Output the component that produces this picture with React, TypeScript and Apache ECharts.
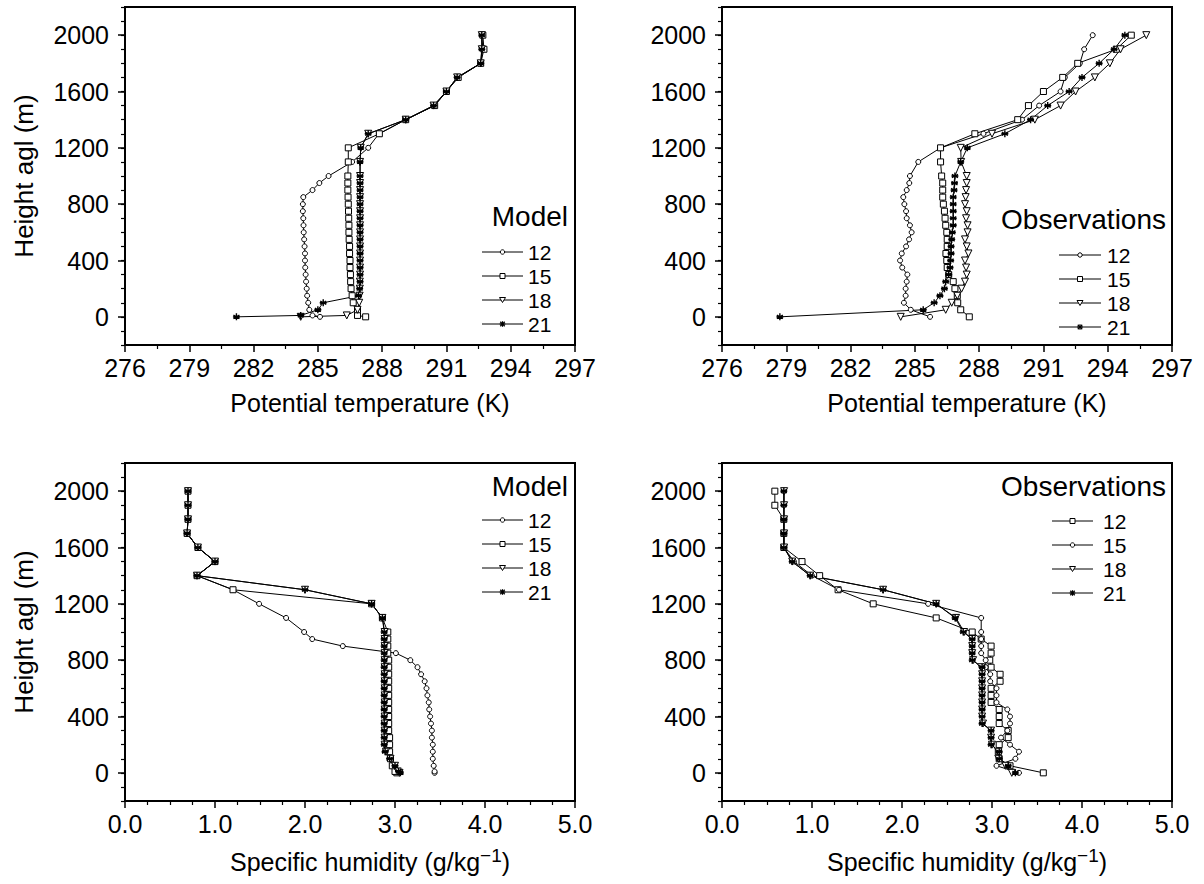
import React, { useEffect, useRef } from 'react';
import * as echarts from 'echarts';

const MODEL_HEIGHTS = [0, 10, 50, 100, 150, 200, 250, 300, 350, 400, 450, 500, 550, 600, 650, 700, 750, 800, 850, 900, 950, 1000, 1100, 1200, 1300, 1400, 1500, 1600, 1700, 1800, 1900, 2000];
const OBS_HEIGHTS = [0, 50, 100, 150, 200, 250, 300, 350, 400, 450, 500, 550, 600, 650, 700, 750, 800, 850, 900, 950, 1000, 1100, 1200, 1300, 1400, 1500, 1600, 1700, 1800, 1900, 2000];
const HOURS = ['12', '15', '18', '21'];
const HEIGHT_LABELS = [0, 400, 800, 1200, 1600, 2000];

// Model potential temperature (K)
const MODEL_THETA_12 = [285.1, 284.75, 284.6, 284.55, 284.5, 284.48, 284.45, 284.43, 284.41, 284.4, 284.4, 284.38, 284.36, 284.34, 284.33, 284.32, 284.3, 284.3, 284.32, 284.75, 285.07, 285.5, 286.6, 287.35, 287.85, 289.1, 290.45, 291.0, 291.55, 292.6, 292.7, 292.65];
const MODEL_THETA_15 = [287.23, 286.85, 286.85, 286.65, 286.6, 286.55, 286.53, 286.52, 286.5, 286.5, 286.48, 286.48, 286.46, 286.45, 286.45, 286.44, 286.43, 286.42, 286.41, 286.4, 286.4, 286.4, 286.42, 286.42, 287.87, 289.1, 290.45, 291.0, 291.55, 292.6, 292.75, 292.7];
const MODEL_THETA_18 = [284.2, 286.35, 286.85, 286.93, 286.95, 286.96, 286.96, 286.97, 286.97, 286.97, 286.97, 286.97, 286.97, 286.97, 286.97, 286.97, 286.97, 286.97, 286.97, 286.97, 286.97, 286.97, 286.97, 287.0, 287.35, 289.1, 290.4, 291.0, 291.5, 292.6, 292.65, 292.65];
const MODEL_THETA_21 = [281.2, 284.2, 285.0, 285.25, 286.9, 286.95, 286.97, 286.97, 286.97, 286.97, 286.97, 286.97, 286.97, 286.97, 286.97, 286.97, 286.97, 286.97, 286.97, 286.97, 286.97, 286.97, 286.97, 287.0, 287.35, 289.1, 290.4, 291.0, 291.5, 292.6, 292.65, 292.65];

// Observed potential temperature (K)
const OBS_THETA_12 = [285.71, 284.81, 284.49, 284.57, 284.57, 284.62, 284.65, 284.41, 284.31, 284.39, 284.59, 284.73, 284.85, 284.77, 284.62, 284.59, 284.51, 284.46, 284.62, 284.74, 284.77, 285.16, 286.2, 288.2, 290.0, 290.8, 291.8, 292.0, 292.7, 292.9, 293.3];
const OBS_THETA_15 = [287.54, 287.14, 287.0, 286.98, 286.87, 286.79, 286.58, 286.51, 286.49, 286.45, 286.51, 286.51, 286.49, 286.44, 286.41, 286.38, 286.33, 286.3, 286.3, 286.3, 286.25, 286.2, 286.2, 287.8, 289.8, 290.3, 291.0, 291.9, 292.6, 294.4, 295.1];
const OBS_THETA_18 = [284.34, 286.44, 286.72, 286.98, 287.18, 287.34, 287.42, 287.39, 287.34, 287.5, 287.42, 287.34, 287.46, 287.46, 287.39, 287.42, 287.34, 287.37, 287.39, 287.42, 287.42, 287.16, 287.14, 288.6, 290.6, 291.8, 292.5, 293.4, 294.1, 294.6, 295.8];
const OBS_THETA_21 = [278.7, 285.39, 285.9, 286.17, 286.38, 286.44, 286.58, 286.64, 286.67, 286.69, 286.69, 286.72, 286.75, 286.79, 286.79, 286.79, 286.79, 286.79, 286.83, 286.85, 286.87, 287.14, 287.45, 289.2, 290.4, 291.2, 292.2, 292.8, 293.6, 294.3, 294.8];

// Model specific humidity
const MODEL_Q_12 = [3.44, 3.44, 3.43, 3.42, 3.42, 3.42, 3.41, 3.41, 3.40, 3.39, 3.38, 3.375, 3.36, 3.35, 3.33, 3.29, 3.25, 3.17, 3.01, 2.42, 2.08, 1.99, 1.79, 1.49, 1.2, 0.8, 1.0, 0.81, 0.69, 0.70, 0.70, 0.70];
const MODEL_Q_15 = [3.02, 3.0, 2.97, 2.95, 2.94, 2.94, 2.94, 2.93, 2.93, 2.93, 2.93, 2.93, 2.93, 2.93, 2.93, 2.93, 2.93, 2.93, 2.92, 2.92, 2.92, 2.92, 2.86, 2.74, 1.2, 0.8, 1.0, 0.81, 0.69, 0.70, 0.70, 0.70];
const MODEL_Q_18 = [3.05, 3.03, 3.0, 2.95, 2.9, 2.885, 2.885, 2.885, 2.885, 2.885, 2.885, 2.885, 2.885, 2.885, 2.885, 2.885, 2.885, 2.885, 2.885, 2.885, 2.885, 2.885, 2.86, 2.74, 2.0, 0.8, 1.0, 0.81, 0.69, 0.70, 0.70, 0.70];
const MODEL_Q_21 = [3.06, 3.04, 3.0, 2.94, 2.89, 2.88, 2.88, 2.88, 2.88, 2.88, 2.88, 2.88, 2.88, 2.88, 2.88, 2.88, 2.88, 2.88, 2.88, 2.88, 2.88, 2.88, 2.86, 2.74, 2.0, 0.8, 1.0, 0.81, 0.69, 0.70, 0.70, 0.70];

// Observed specific humidity
const OBS_Q_12 = [3.57, 3.2, 3.08, 3.07, 3.08, 3.18, 3.18, 3.08, 3.08, 3.08, 2.99, 2.99, 2.99, 3.09, 3.09, 2.99, 2.975, 2.99, 2.99, 2.88, 2.78, 2.38, 1.68, 1.29, 1.085, 0.889, 0.687, 0.687, 0.687, 0.587, 0.587];
const OBS_Q_15 = [3.3, 3.05, 3.26, 3.3, 3.2, 3.1, 3.17, 3.2, 3.2, 3.17, 3.05, 3.05, 3.05, 2.98, 2.98, 2.93, 2.93, 2.88, 2.88, 2.88, 2.88, 2.88, 2.29, 1.3, 1.0, 0.8, 0.687, 0.687, 0.687, 0.687, 0.687];
const OBS_Q_18 = [3.22, 3.15, 3.07, 3.07, 3.0, 2.99, 2.99, 2.9, 2.89, 2.89, 2.89, 2.89, 2.89, 2.89, 2.89, 2.88, 2.79, 2.78, 2.78, 2.78, 2.69, 2.6, 2.38, 1.79, 0.98, 0.78, 0.69, 0.69, 0.69, 0.69, 0.69];
const OBS_Q_21 = [3.26, 3.18, 3.08, 3.08, 2.99, 2.99, 2.99, 2.89, 2.89, 2.89, 2.89, 2.89, 2.89, 2.89, 2.89, 2.89, 2.78, 2.78, 2.78, 2.78, 2.68, 2.59, 2.38, 1.79, 0.98, 0.78, 0.687, 0.687, 0.687, 0.687, 0.687];

const FONT = '"Liberation Sans", Arial, Helvetica, sans-serif';

type Mk = 'circle' | 'square' | 'triangle' | 'star';

const SYMBOLS: Record<Mk, { symbol: string; size: number; fill: string }> = {
  circle: { symbol: 'circle', size: 5, fill: '#fff' },
  square: { symbol: 'rect', size: 6, fill: '#fff' },
  triangle: { symbol: 'path://M0,0L10,0L5,9Z', size: 7, fill: '#fff' },
  star: { symbol: 'path://M5,0L5,10M0.7,2.5L9.3,7.5M0.7,7.5L9.3,2.5M0,5L10,5', size: 7, fill: '#000' },
};

function makeSeries(name: string, xs: number[], hs: number[], grid: number, mk: Mk) {
  const s = SYMBOLS[mk];
  return {
    type: 'line',
    name,
    xAxisIndex: grid,
    yAxisIndex: grid * 2,
    data: hs.map((h, i) => [xs[i], h]),
    symbol: s.symbol,
    symbolSize: s.size,
    showSymbol: true,
    lineStyle: { color: '#000', width: 1 },
    itemStyle: { color: s.fill, borderColor: '#000', borderWidth: mk === 'star' ? 1.4 : 1 },
    emphasis: { disabled: true },
  };
}

function legendGraphics(cfg: {
  title: string; titleRight: number; titleY: number;
  x0: number; x1: number; textX: number; rows: number[]; markers: Mk[];
}) {
  const els: any[] = [];
  els.push({
    type: 'text', x: cfg.titleRight, y: cfg.titleY,
    style: { text: cfg.title, fontSize: 28, fontFamily: FONT, fill: '#000', align: 'right', verticalAlign: 'middle' },
  });
  cfg.rows.forEach((y, i) => {
    const cx = (cfg.x0 + cfg.x1) / 2;
    els.push({ type: 'line', shape: { x1: cfg.x0, y1: y, x2: cfg.x1, y2: y }, style: { stroke: '#000', lineWidth: 1 } });
    const st = { fill: '#fff', stroke: '#000', lineWidth: 1 };
    const m = cfg.markers[i];
    if (m === 'circle') els.push({ type: 'circle', shape: { cx, cy: y, r: 2.2 }, style: st });
    else if (m === 'square') els.push({ type: 'rect', shape: { x: cx - 2.5, y: y - 2.5, width: 5, height: 5 }, style: st });
    else if (m === 'triangle') els.push({ type: 'polygon', shape: { points: [[cx - 3, y - 2.5], [cx + 3, y - 2.5], [cx, y + 2.5]] }, style: st });
    else {
      const r = 2.8;
      [[0, -r, 0, r], [-r, 0, r, 0], [-r * 0.8, -r * 0.8, r * 0.8, r * 0.8], [-r * 0.8, r * 0.8, r * 0.8, -r * 0.8]].forEach((p) =>
        els.push({ type: 'line', shape: { x1: cx + p[0], y1: y + p[1], x2: cx + p[2], y2: y + p[3] }, style: { stroke: '#000', lineWidth: 1.2 } }));
    }
    els.push({
      type: 'text', x: cfg.textX, y,
      style: { text: HOURS[i], fontSize: 21, fontFamily: FONT, fill: '#000', align: 'left', verticalAlign: 'middle' },
    });
  });
  return els;
}

const GRIDS = [
  { left: 125, top: 7, width: 450, height: 338 },
  { left: 722, top: 7, width: 450, height: 338 },
  { left: 125, top: 463, width: 450, height: 338 },
  { left: 722, top: 463, width: 450, height: 338 },
];

function buildOption() {
  const labelStyle = { color: '#000', fontSize: 25, fontFamily: FONT };
  const xAxis = GRIDS.map((_, g) => {
    const theta = g < 2;
    return {
      type: 'value', gridIndex: g,
      min: theta ? 276 : 0, max: theta ? 297 : 5, interval: theta ? 3 : 1,
      name: theta ? 'Potential temperature (K)' : 'Specific humidity (g/kg{sup|−1})',
      nameLocation: 'middle', nameGap: 45,
      nameTextStyle: {
        color: '#000', fontSize: 25, fontFamily: FONT, padding: [0, 0, 0, 40],
        rich: { sup: { fontSize: 19, fontFamily: FONT, color: '#000', verticalAlign: 'top', padding: [0, 0, 12, 0] } },
      },
      axisLine: { show: true, onZero: false, lineStyle: { color: '#000', width: 2 } },
      axisTick: { show: true, inside: false, length: 7, lineStyle: { color: '#000', width: 1.5 } },
      minorTick: { show: true, splitNumber: theta ? 2 : 4, length: 4, lineStyle: { color: '#000', width: 1.2 } },
      axisLabel: { ...labelStyle, margin: 10, formatter: (v: number) => (theta ? String(v) : v.toFixed(1)) },
      splitLine: { show: false },
      minorSplitLine: { show: false },
    };
  });
  const yAxis: any[] = [];
  GRIDS.forEach((_, g) => {
    yAxis.push({
      type: 'value', gridIndex: g, min: -200, max: 2200, interval: 100,
      axisLine: { show: true, onZero: false, lineStyle: { color: '#000', width: 2 } },
      axisTick: { show: true, length: 4, lineStyle: { color: '#000', width: 1.2 } },
      axisLabel: { show: false },
      splitLine: { show: false },
    });
    yAxis.push({
      type: 'value', gridIndex: g, min: -200, max: 2200,
      position: 'left',
      name: g % 2 === 0 ? 'Height agl (m)' : '',
      nameLocation: 'middle', nameRotate: 90, nameGap: 88,
      nameTextStyle: { color: '#000', fontSize: 26, fontFamily: FONT },
      axisLine: { show: false },
      axisTick: { show: true, length: 7, customValues: HEIGHT_LABELS, lineStyle: { color: '#000', width: 1.5 } },
      axisLabel: { ...labelStyle, margin: 16, customValues: HEIGHT_LABELS, formatter: (v: number) => String(v) },
      splitLine: { show: false },
    });
  });

  const series = [
    makeSeries('12', MODEL_THETA_12, MODEL_HEIGHTS, 0, 'circle'),
    makeSeries('15', MODEL_THETA_15, MODEL_HEIGHTS, 0, 'square'),
    makeSeries('18', MODEL_THETA_18, MODEL_HEIGHTS, 0, 'triangle'),
    makeSeries('21', MODEL_THETA_21, MODEL_HEIGHTS, 0, 'star'),
    makeSeries('12', OBS_THETA_12, OBS_HEIGHTS, 1, 'circle'),
    makeSeries('15', OBS_THETA_15, OBS_HEIGHTS, 1, 'square'),
    makeSeries('18', OBS_THETA_18, OBS_HEIGHTS, 1, 'triangle'),
    makeSeries('21', OBS_THETA_21, OBS_HEIGHTS, 1, 'star'),
    makeSeries('12', MODEL_Q_12, MODEL_HEIGHTS, 2, 'circle'),
    makeSeries('15', MODEL_Q_15, MODEL_HEIGHTS, 2, 'square'),
    makeSeries('18', MODEL_Q_18, MODEL_HEIGHTS, 2, 'triangle'),
    makeSeries('21', MODEL_Q_21, MODEL_HEIGHTS, 2, 'star'),
    makeSeries('12', OBS_Q_12, OBS_HEIGHTS, 3, 'square'),
    makeSeries('15', OBS_Q_15, OBS_HEIGHTS, 3, 'circle'),
    makeSeries('18', OBS_Q_18, OBS_HEIGHTS, 3, 'triangle'),
    makeSeries('21', OBS_Q_21, OBS_HEIGHTS, 3, 'star'),
  ];

  const graphic = [
    ...legendGraphics({ title: 'Model', titleRight: 568, titleY: 216, x0: 482, x1: 523, textX: 528, rows: [252, 276, 300, 324], markers: ['circle', 'square', 'triangle', 'star'] }),
    ...legendGraphics({ title: 'Observations', titleRight: 1166, titleY: 219, x0: 1059, x1: 1101, textX: 1107, rows: [255, 279, 303, 327], markers: ['circle', 'square', 'triangle', 'star'] }),
    ...legendGraphics({ title: 'Model', titleRight: 568, titleY: 486, x0: 482, x1: 523, textX: 528, rows: [520, 544, 568, 592], markers: ['circle', 'square', 'triangle', 'star'] }),
    ...legendGraphics({ title: 'Observations', titleRight: 1166, titleY: 486, x0: 1052, x1: 1093, textX: 1103, rows: [521, 545, 569, 593], markers: ['square', 'circle', 'triangle', 'star'] }),
  ];

  return {
    animation: false,
    backgroundColor: '#fff',
    textStyle: { fontFamily: FONT },
    grid: GRIDS.map((g) => ({ ...g, show: true, borderColor: '#000', borderWidth: 2, backgroundColor: 'transparent', containLabel: false })),
    xAxis,
    yAxis,
    series,
    graphic,
  };
}

export default function App() {
  const ref = useRef<HTMLDivElement>(null);
  useEffect(() => {
    if (!ref.current) return;
    const chart = echarts.init(ref.current, undefined, { renderer: 'svg' });
    chart.setOption(buildOption() as any);
    return () => chart.dispose();
  }, []);
  return <div ref={ref} style={{ position: 'absolute', left: 0, top: 0, width: 1204, height: 884, background: '#fff' }} />;
}
